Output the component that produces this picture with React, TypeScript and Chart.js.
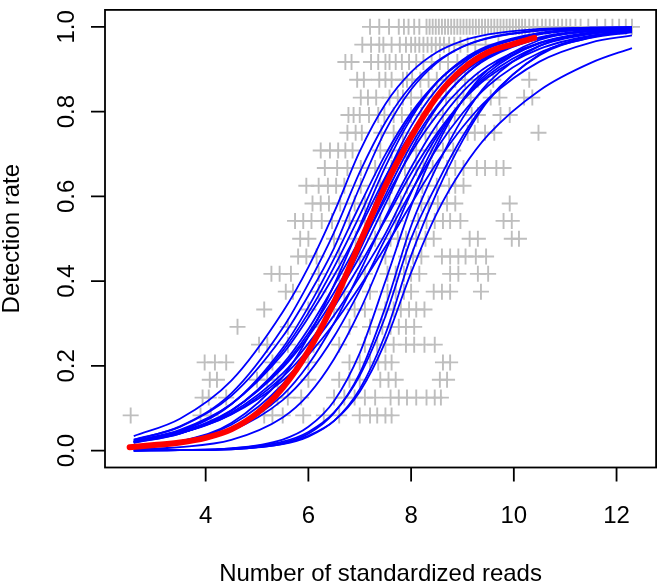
import React, { useEffect, useRef } from "react";
import { Chart, registerables } from "chart.js";
Chart.register(...registerables);

const xTicks = [4, 6, 8, 10, 12];
const yTicks = [0, 0.2, 0.4, 0.6, 0.8, 1.0];
const yTickLabels = ["0.0", "0.2", "0.4", "0.6", "0.8", "1.0"];
const xTitle = "Number of standardized reads";
const yTitle = "Detection rate";

// observed detection rates (gray crosses), one row per rate
const grayRates = [1.0, 0.958, 0.917, 0.875, 0.833, 0.792, 0.75, 0.708, 0.667, 0.625, 0.583, 0.542, 0.5, 0.458, 0.417, 0.375, 0.333, 0.292, 0.25, 0.208, 0.167, 0.125, 0.083];
const grayXs = [
  [7.2, 7.38, 7.57, 7.76, 7.86, 7.95, 8.06, 8.16, 8.3, 8.36, 8.42, 8.48, 8.54, 8.6, 8.66, 8.72, 8.78, 8.84, 8.9, 8.96, 9.02, 9.08, 9.14, 9.2, 9.26, 9.32, 9.38, 9.44, 9.5, 9.56, 9.62, 9.68, 9.74, 9.8, 9.86, 9.92, 9.98, 10.04, 10.1, 10.16, 10.22, 10.3, 10.38, 10.46, 10.55, 10.62, 10.7, 10.78, 10.86, 10.94, 11.02, 11.1, 11.2, 11.3, 11.45, 11.62, 11.78, 11.92, 12.05, 12.18, 12.3],
  [7.05, 7.22, 7.38, 7.46, 7.62, 7.78, 7.9, 8.0, 8.08, 8.16, 8.24, 8.32, 8.4, 8.48, 8.56, 8.64, 8.74, 8.84, 8.96, 9.1, 9.25, 9.45, 9.7],
  [6.72, 6.84, 7.22, 7.36, 7.5, 7.58, 7.7, 7.82, 7.96, 8.1, 8.24, 8.4, 8.56, 8.72, 8.9, 9.1],
  [6.95, 7.08, 7.38, 7.5, 7.62, 7.84, 7.92, 8.02, 8.18, 8.34, 8.5, 8.68, 8.86, 9.05, 9.3, 9.6, 10.3],
  [7.02, 7.16, 7.32, 7.58, 7.74, 7.84, 8.0, 8.2, 8.42, 8.68, 8.9, 9.02, 9.16, 9.55, 9.72, 10.2, 10.36],
  [6.78, 6.88, 7.0, 7.18, 7.36, 7.48, 7.66, 7.82, 8.0, 8.2, 8.4, 8.62, 8.85, 9.18, 9.3, 9.74, 9.92],
  [6.76, 6.92, 7.04, 7.42, 7.66, 7.84, 8.08, 8.28, 8.5, 8.74, 9.1, 9.24, 9.44, 9.62, 10.48],
  [6.24, 6.42, 6.58, 6.72, 6.86, 7.4, 7.62, 7.9, 8.1, 8.4, 8.62, 8.82],
  [6.32, 6.56, 6.76, 7.02, 7.3, 7.62, 7.88, 8.1, 8.24, 8.42, 8.7, 8.86, 9.02, 9.28, 9.44, 9.66, 9.8],
  [5.96, 6.2, 6.38, 6.54, 6.7, 7.02, 7.4, 7.62, 7.92, 8.22, 8.5, 8.74, 8.86, 9.02],
  [6.08, 6.24, 6.4, 6.62, 6.9, 7.1, 7.32, 7.58, 7.8, 8.2, 8.34, 8.52, 8.7, 8.86, 9.92],
  [5.74, 5.9, 6.06, 6.26, 6.46, 6.8, 7.1, 7.4, 7.7, 8.14, 8.3, 8.46, 8.62, 8.76, 8.96, 9.8, 9.96],
  [5.84, 6.0, 6.5, 6.92, 7.3, 7.6, 7.74, 7.9, 8.1, 8.28, 8.44, 9.14, 9.3, 9.96, 10.1],
  [5.8, 5.96, 6.16, 6.6, 7.0, 7.5, 7.9, 8.04, 8.2, 8.6, 8.76, 8.92, 9.06, 9.26, 9.46],
  [5.28, 5.44, 5.66, 6.2, 6.6, 7.1, 7.54, 7.7, 7.86, 8.0, 8.16, 8.76, 8.92, 9.3, 9.5],
  [5.56, 5.7, 6.2, 6.7, 7.2, 7.54, 7.7, 7.86, 8.0, 8.44, 8.6, 8.76, 9.36],
  [5.14, 6.0, 6.5, 6.9, 7.1, 7.5, 7.66, 7.8, 7.96, 8.1, 8.26],
  [4.62, 5.6, 6.2, 6.8, 7.2, 7.44, 7.6, 7.76, 7.9, 8.06],
  [5.04, 5.2, 5.6, 6.1, 6.6, 7.1, 7.34, 7.5, 7.66, 7.9, 8.06, 8.26, 8.46],
  [3.98, 4.18, 4.4, 5.3, 6.0, 6.8, 7.0, 7.2, 7.36, 7.5, 7.62, 8.62, 8.76],
  [4.08, 4.22, 5.0, 5.2, 5.4, 6.0, 6.6, 6.8, 7.0, 7.4, 7.56, 7.7, 8.56, 8.7],
  [3.94, 4.06, 4.4, 5.4, 5.6, 5.86, 6.5, 6.7, 6.9, 7.1, 7.3, 7.6, 7.76, 7.92, 8.1, 8.3, 8.46, 8.58],
  [2.54, 3.9, 4.1, 5.14, 5.3, 5.5, 5.9, 6.3, 6.6, 7.0, 7.2, 7.34, 7.5, 7.62],
];

// blue fitted curves, sampled at curveX
const curveX = [2.6, 3.5, 4.5, 5.5, 6.0, 6.5, 7.0, 7.5, 8.0, 8.5, 9.0, 9.5, 10.5, 11.5, 12.3];
const blueCurves = [
  [0.034, 0.075, 0.165, 0.327, 0.433, 0.562, 0.706, 0.818, 0.893, 0.94, 0.967, 0.982, 0.995, 0.998, 0.999],
  [0.025, 0.057, 0.135, 0.289, 0.394, 0.515, 0.657, 0.775, 0.861, 0.918, 0.953, 0.973, 0.991, 0.997, 0.999],
  [0.026, 0.056, 0.129, 0.269, 0.366, 0.478, 0.622, 0.755, 0.852, 0.915, 0.953, 0.974, 0.992, 0.998, 0.999],
  [0.02, 0.045, 0.109, 0.242, 0.339, 0.453, 0.579, 0.699, 0.797, 0.869, 0.918, 0.95, 0.982, 0.994, 0.997],
  [0.021, 0.047, 0.11, 0.235, 0.325, 0.433, 0.555, 0.686, 0.791, 0.869, 0.92, 0.953, 0.984, 0.995, 0.998],
  [0.023, 0.049, 0.11, 0.228, 0.314, 0.413, 0.525, 0.646, 0.75, 0.832, 0.891, 0.931, 0.973, 0.99, 0.995],
  [0.018, 0.04, 0.094, 0.204, 0.287, 0.389, 0.5, 0.643, 0.765, 0.853, 0.913, 0.95, 0.984, 0.995, 0.998],
  [0.02, 0.042, 0.094, 0.199, 0.277, 0.373, 0.478, 0.594, 0.703, 0.791, 0.859, 0.908, 0.962, 0.985, 0.993],
  [0.021, 0.044, 0.095, 0.195, 0.269, 0.359, 0.458, 0.582, 0.709, 0.809, 0.881, 0.928, 0.975, 0.992, 0.997],
  [0.019, 0.04, 0.089, 0.182, 0.253, 0.339, 0.438, 0.545, 0.654, 0.748, 0.825, 0.881, 0.948, 0.979, 0.989],
  [0.02, 0.041, 0.086, 0.174, 0.239, 0.319, 0.411, 0.512, 0.634, 0.741, 0.825, 0.886, 0.955, 0.983, 0.992],
  [0.021, 0.041, 0.085, 0.165, 0.226, 0.3, 0.387, 0.481, 0.582, 0.679, 0.763, 0.83, 0.918, 0.963, 0.98],
  [0.008, 0.022, 0.065, 0.174, 0.269, 0.391, 0.53, 0.67, 0.784, 0.868, 0.922, 0.955, 0.986, 0.996, 0.998],
  [0.009, 0.022, 0.061, 0.157, 0.239, 0.348, 0.473, 0.603, 0.721, 0.813, 0.881, 0.926, 0.973, 0.99, 0.996],
  [0.007, 0.018, 0.05, 0.131, 0.203, 0.301, 0.421, 0.55, 0.668, 0.769, 0.846, 0.9, 0.961, 0.985, 0.993],
  [0.007, 0.018, 0.047, 0.119, 0.182, 0.269, 0.378, 0.5, 0.611, 0.713, 0.796, 0.861, 0.939, 0.974, 0.987],
  [0.003, 0.008, 0.025, 0.078, 0.132, 0.216, 0.33, 0.47, 0.608, 0.731, 0.826, 0.892, 0.962, 0.987, 0.995],
  [0.0, 0.001, 0.005, 0.026, 0.056, 0.117, 0.23, 0.4, 0.577, 0.719, 0.826, 0.899, 0.969, 0.991, 0.997],
  [0.0, 0.001, 0.003, 0.018, 0.04, 0.089, 0.182, 0.339, 0.53, 0.67, 0.784, 0.868, 0.955, 0.986, 0.994],
  [0.0, 0.001, 0.005, 0.021, 0.044, 0.09, 0.177, 0.317, 0.5, 0.629, 0.741, 0.829, 0.933, 0.975, 0.989],
  [0.0, 0.001, 0.003, 0.015, 0.033, 0.07, 0.145, 0.275, 0.46, 0.609, 0.731, 0.826, 0.935, 0.978, 0.991],
  [0.0, 0.001, 0.004, 0.016, 0.035, 0.07, 0.139, 0.257, 0.42, 0.56, 0.665, 0.745, 0.85, 0.915, 0.95],
];

// red mean curve
const redX = [2.52, 3.0, 3.5, 4.0, 4.5, 5.0, 5.5, 6.0, 6.5, 7.0, 7.5, 8.0, 8.5, 9.0, 9.5, 10.0, 10.4];
const redY = [0.008, 0.013, 0.019, 0.03, 0.05, 0.088, 0.148, 0.235, 0.35, 0.49, 0.625, 0.74, 0.835, 0.9, 0.94, 0.96, 0.974];

const FONT = '24px "Liberation Sans", Arial, Helvetica, sans-serif';

const rAxesPlugin = {
  id: "rAxes",
  afterDraw(chart: any) {
    const { ctx, chartArea: a } = chart;
    const xs = chart.scales.x;
    const ys = chart.scales.y;
    ctx.save();
    ctx.strokeStyle = "#000";
    ctx.lineWidth = 1.8;
    ctx.strokeRect(a.left, a.top, a.right - a.left, a.bottom - a.top);
    ctx.beginPath();
    xTicks.forEach((v) => {
      const px = xs.getPixelForValue(v);
      ctx.moveTo(px, a.bottom);
      ctx.lineTo(px, a.bottom + 14);
    });
    yTicks.forEach((v) => {
      const py = ys.getPixelForValue(v);
      ctx.moveTo(a.left, py);
      ctx.lineTo(a.left - 14, py);
    });
    ctx.stroke();
    ctx.fillStyle = "#000";
    ctx.font = FONT;
    ctx.textAlign = "center";
    ctx.textBaseline = "alphabetic";
    xTicks.forEach((v) => {
      ctx.fillText(String(v), xs.getPixelForValue(v), 523);
    });
    yTicks.forEach((v, i) => {
      ctx.save();
      ctx.translate(74, ys.getPixelForValue(v));
      ctx.rotate(-Math.PI / 2);
      ctx.fillText(yTickLabels[i], 0, 0);
      ctx.restore();
    });
    ctx.fillText(xTitle, (a.left + a.right) / 2, 581);
    ctx.save();
    ctx.translate(19, (a.top + a.bottom) / 2);
    ctx.rotate(-Math.PI / 2);
    ctx.fillText(yTitle, 0, 0);
    ctx.restore();
    ctx.restore();
  },
};

export default function App() {
  const ref = useRef<HTMLCanvasElement | null>(null);
  useEffect(() => {
    if (!ref.current) return;
    const grayData: { x: number; y: number }[] = [];
    grayXs.forEach((row, i) => row.forEach((x) => grayData.push({ x, y: grayRates[i] })));
    const datasets: any[] = [];
    datasets.push({
      data: redX.map((x, i) => ({ x, y: redY[i] })),
      showLine: true,
      borderColor: "#FF0000",
      backgroundColor: "#FF0000",
      borderWidth: 6,
      borderCapStyle: "round",
      borderJoinStyle: "round",
      pointRadius: 0,
      cubicInterpolationMode: "monotone",
      order: 0,
    });
    blueCurves.forEach((ys) => {
      datasets.push({
        data: curveX.map((x, i) => ({ x, y: ys[i] })),
        showLine: true,
        borderColor: "#0000FF",
        backgroundColor: "#0000FF",
        borderWidth: 1.8,
        pointRadius: 0,
        cubicInterpolationMode: "monotone",
        order: 1,
      });
    });
    datasets.push({
      data: grayData,
      showLine: false,
      pointStyle: "cross",
      pointRadius: 8,
      pointBorderWidth: 1.9,
      borderColor: "#BEBEBE",
      backgroundColor: "#BEBEBE",
      order: 2,
    });
    const chart = new Chart(ref.current, {
      type: "scatter",
      data: { datasets },
      options: {
        responsive: false,
        animation: false,
        devicePixelRatio: 1,
        layout: { padding: { left: 105, top: 2, right: 2, bottom: 115.5 } },
        plugins: { legend: { display: false }, tooltip: { enabled: false } },
        events: [],
        scales: {
          x: { type: "linear", min: 2.04, max: 12.77, display: false },
          y: { type: "linear", min: -0.04, max: 1.04, display: false },
        },
      } as any,
      plugins: [rAxesPlugin],
    });
    return () => chart.destroy();
  }, []);
  return (
    <div style={{ position: "absolute", left: 0, top: 0, width: 666, height: 583, background: "#fff" }}>
      <canvas ref={ref} width={666} height={583} style={{ display: "block" }} />
    </div>
  );
}
